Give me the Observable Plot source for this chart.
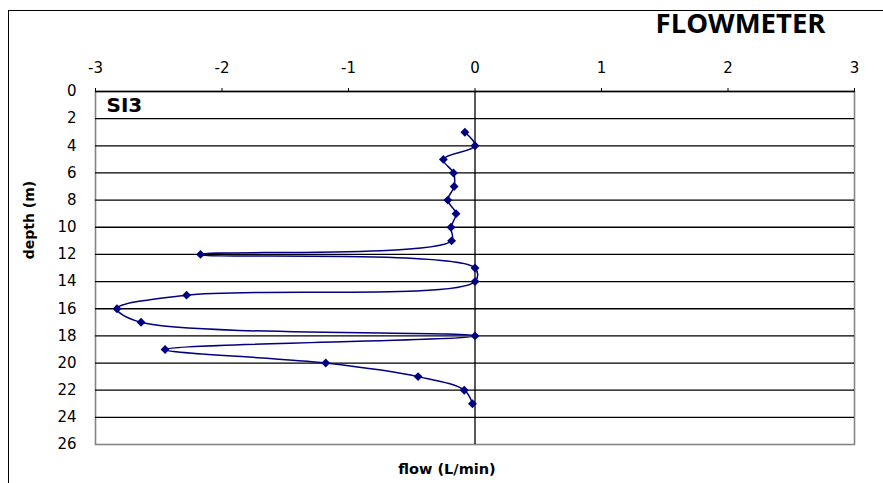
<!DOCTYPE html>
<html>
<head>
<meta charset="utf-8">
<script src="https://cdn.jsdelivr.net/npm/d3@7"></script>
<script src="https://cdn.jsdelivr.net/npm/@observablehq/plot@0.6"></script>
<style>
  html, body { margin: 0; padding: 0; background: #fff; }
  #wrap { position: relative; width: 883px; height: 483px; overflow: hidden; }
  #outer { position: absolute; left: 8px; top: 10px; width: 900px; height: 500px; border: 1.5px solid #000; box-sizing: border-box; }
  #chart { position: absolute; left: 0; top: 0; }
</style>
</head>
<body>
<div id="wrap"><div id="outer"></div><div id="chart"></div></div>
<script>
const depths = [3, 4, 5, 6, 7, 8, 9, 10, 11, 12, 13, 14, 15, 16, 17, 18, 19, 20, 21, 22, 23];
const flows = [-0.08, 0, -0.25, -0.17, -0.165, -0.215, -0.15, -0.19, -0.185, -2.17, 0, 0, -2.28, -2.83, -2.64, 0, -2.45, -1.18, -0.45, -0.085, -0.02];
const xTicks = [-3, -2, -1, 0, 1, 2, 3];
const yTicks = [0, 2, 4, 6, 8, 10, 12, 14, 16, 18, 20, 22, 24, 26];
const gridDepths = [0, 2, 4, 6, 8, 10, 12, 14, 16, 18, 20, 22, 24];

const data = depths.map((d, i) => ({depth: d, flow: flows[i]}));

const chart = Plot.plot({
  width: 883,
  height: 483,
  marginLeft: 95,
  marginRight: 29,
  marginTop: 91,
  marginBottom: 39,
  style: {fontFamily: "'DejaVu Sans', sans-serif", fontSize: "15px", background: "transparent"},
  x: {domain: [-3, 3]},
  y: {domain: [0, 26], reverse: true},
  marks: [
    Plot.frame({stroke: "#858585", strokeWidth: 1.6}),
    Plot.ruleY(gridDepths, {y: d => d, stroke: "#000", strokeWidth: 1.3}),
    Plot.ruleX([0], {stroke: "#000", strokeWidth: 1.3}),
    Plot.axisX(xTicks, {anchor: "top", tickSize: 4, tickPadding: 15, stroke: "#000", fill: "#000", fontSize: 15, tickFormat: d => d < 0 ? "-" + Math.abs(d) : String(d), label: null}),
    Plot.axisY(yTicks, {anchor: "left", tickSize: 0, tickPadding: 19, fill: "#000", fontSize: 15, label: null}),
    Plot.line(data, {x: "flow", y: "depth", curve: "catmull-rom", stroke: "#000080", strokeWidth: 1.5}),
    Plot.dot(data, {x: "flow", y: "depth", symbol: "diamond2", r: 4, fill: "#000080", stroke: "none"}),
    Plot.text(["SI3"], {frameAnchor: "top-left", dx: 11, dy: 6, lineAnchor: "top", textAnchor: "start", fontSize: 20, fontWeight: "bold", fill: "#000"}),
    Plot.text(["flow (L/min)"], {frameAnchor: "bottom", dx: -28, dy: 25, lineAnchor: "middle", textAnchor: "middle", fontSize: 14.5, fontWeight: "bold", fill: "#000"}),
    Plot.text(["depth (m)"], {frameAnchor: "left", dx: -66, dy: -48, rotate: -90, lineAnchor: "middle", textAnchor: "middle", fontSize: 14, fontWeight: "bold", fill: "#000"}),
    Plot.text(["FLOWMETER"], {frameAnchor: "top-right", dx: -114, dy: -59, lineAnchor: "bottom", textAnchor: "middle", fontFamily: "'Open Sans', sans-serif", fontSize: 27.5, fontWeight: "bold", fill: "#000"})
  ]
});
document.getElementById("chart").appendChild(chart);
</script>
</body>
</html>
